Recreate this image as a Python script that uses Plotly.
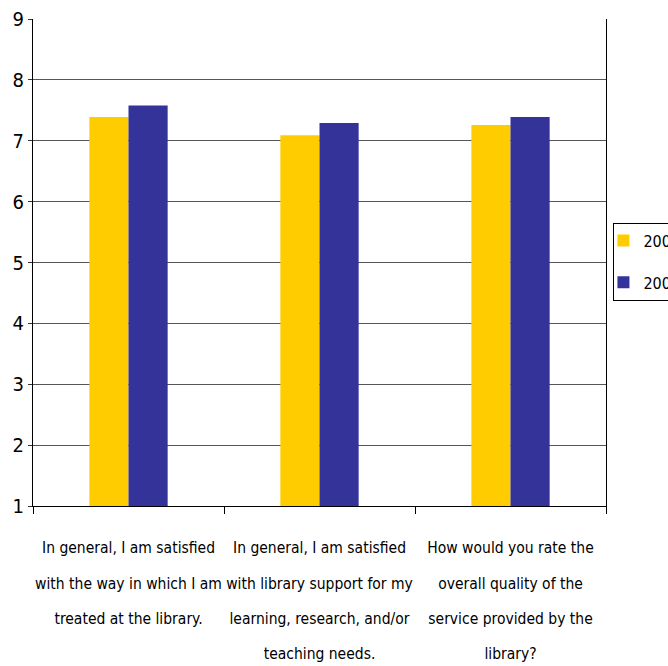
import plotly.graph_objects as go

categories = [
    "In general, I am satisfied<br>with the way in which I am<br>treated at the library.",
    "In general, I am satisfied<br>with library support for my<br>learning, research, and/or<br>teaching needs.",
    "How would you rate the<br>overall quality of the<br>service provided by the<br>library?",
]
series_names = ["2004", "2008"]
values_2004 = [7.39, 7.09, 7.26]
values_2008 = [7.58, 7.29, 7.39]
y_ticks = [1, 2, 3, 4, 5, 6, 7, 8, 9]

FONT = "DejaVu Sans Condensed, Liberation Sans Narrow, sans-serif"

# category labels drawn at a small glyph size but with a larger line pitch
SPAN = '<span style="font-size:15.5px">'
tick_text = [SPAN + c.replace("<br>", "</span><br>" + SPAN) + "</span>" for c in categories]

fig = go.Figure()
fig.add_trace(go.Bar(name=series_names[0], x=categories, y=values_2004,
                     legendgroup="g2004",
                     marker=dict(color="#FFCC00", line=dict(width=0))))
fig.add_trace(go.Bar(name=series_names[1], x=categories, y=values_2008,
                     legendgroup="g2008",
                     marker=dict(color="#333399", line=dict(width=0))))

fig.update_layout(
    width=668, height=666,
    margin=dict(l=33, r=62, t=19, b=160, autoexpand=False),
    paper_bgcolor="white", plot_bgcolor="white",
    barmode="group", bargap=0.59, bargroupgap=0,
    font=dict(family=FONT, size=16, color="black"),
    legend=dict(x=1.013, y=0.582, xanchor="left", yanchor="top",
                bordercolor="black", borderwidth=1, bgcolor="white",
                font=dict(family=FONT, size=16), itemwidth=30,
                indentation=-11, tracegroupgap=18),
    showlegend=True,
)
fig.update_xaxes(
    showline=True, linecolor="black", linewidth=1, mirror=False,
    ticks="outside", tickson="boundaries", ticklen=7, tickcolor="black",
    showgrid=False, tickfont=dict(family=FONT, size=27), tickangle=0,
    tickmode="array", tickvals=categories, ticktext=tick_text,
    ticklabelstandoff=14, automargin=False,
)
fig.update_yaxes(
    range=[1, 9], tickvals=y_ticks, showline=True, linecolor="black",
    linewidth=1, mirror=True, ticks="outside", ticklen=4, tickcolor="#333333",
    showgrid=True, gridcolor="#555555", gridwidth=1,
    tickfont=dict(family=FONT, size=20), zeroline=False, automargin=False,
)
fig.write_html("out.html")
